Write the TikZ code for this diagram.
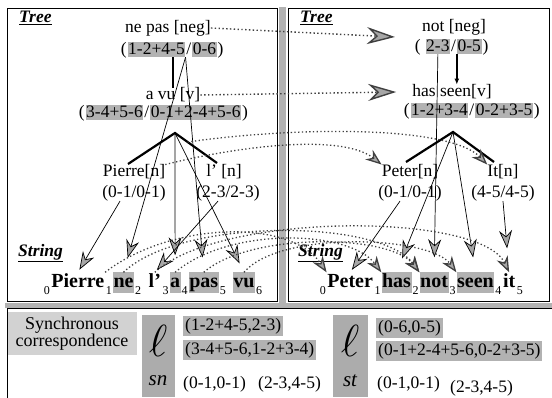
\documentclass[tikz,border=0pt]{standalone}
\usepackage{fontspec}
\setmainfont{Liberation Serif}
\usetikzlibrary{positioning,arrows.meta}
\newcommand{\ix}[1]{\raisebox{-0.3em}{\normalfont\fontsize{12}{12}\selectfont #1}}
\newcommand{\ttl}[1]{\underline{\bfseries\itshape #1}}

\begin{document}
\begin{tikzpicture}[x=1pt,y=-1pt,
    every node/.style={inner sep=0pt,font=\fontsize{17.5}{20}\selectfont},
    part/.style={inner xsep=0.6pt,inner ysep=1.8pt},
    hl/.style={part,fill=gray!60},
    wd/.style={inner xsep=0.6pt,inner ysep=1.5pt,text height=14pt,text depth=4pt,font=\fontsize{20}{22}\selectfont\bfseries},
    hlwd/.style={wd,fill=gray!60},
    bx/.style={fill=gray!60,inner xsep=2pt,inner ysep=2pt},
    link/.style={line width=0.7pt,-{Stealth[length=18pt,width=13pt,inset=6pt,fill=gray!70]}},
    arm/.style={line width=2.2pt},
    xlink/.style={black!75,line width=1.4pt,dash pattern=on 1.4pt off 2.4pt,-{Stealth[length=28pt,width=17pt,inset=9pt,fill=gray!70]}},
    xarc/.style={black!75,line width=1.3pt,dash pattern=on 1.3pt off 2.4pt,-{Stealth[length=16pt,width=12pt,inset=5pt,fill=gray!70]}}]
    \useasboundingbox (0,0) rectangle (552,398);

    \draw[line width=1pt] (7,9) rectangle (277,302);
    \fill[gray!60] (279,7) rectangle (286,304);
    \draw[line width=1pt] (288,9) rectangle (549,302);
    \fill[gray!60] (5,303) rectangle (552,308);
    \draw[line width=1pt] (7,309) -- (552,309);
    \draw[line width=1pt] (7,309) -- (7,398);

    \node[anchor=west] (lTree) at (19,18) {\ttl{Tree}};
    \node[anchor=west] (rTree) at (300,18) {\ttl{Tree}};
    \node[anchor=west] (lString) at (18,253) {\ttl{String}};
    \node[anchor=west] (rString) at (298,253) {\ttl{String}};

    \node (nepas) at (168,28) {ne pas [neg]};
    \node[part,anchor=base west] (nepasO) at (120,55) {(};
    \node[hl,base right=0pt of nepasO] (nepasA) {1-2+4-5};
    \node[part,base right=0pt of nepasA] (nepasS) {/};
    \node[hl,base right=0pt of nepasS] (nepasB) {0-6};
    \node[part,base right=0pt of nepasB] (nepasC) {)};

    \node (avu) at (173,95) {a vu [v]};
    \node[part,anchor=base west] (avuO) at (78,118) {(};
    \node[hl,base right=0pt of avuO] (avuA) {3-4+5-6};
    \node[part,base right=0pt of avuA] (avuS) {/};
    \node[hl,base right=0pt of avuS] (avuB) {0-1+2-4+5-6};
    \node[part,base right=0pt of avuB] (avuC) {)};

    \coordinate (lTop) at (175,133);
    \coordinate (lArmL) at (128,164);
    \coordinate (lArmR) at (217,163);
    \node (pierre) at (134,172) {Pierre[n]};
    \node (pierreSp) at (134,193) {(0-1/0-1)};
    \node (lq) at (224,172) {l’ [n]};
    \node (lqSp) at (228,193) {(2-3/2-3)};

    \node (notneg) at (454,27) {not [neg]};
    \node[part,anchor=base west] (notO) at (414,52) {(};
    \node[hl,base right=4pt of notO] (notA) {2-3};
    \node[part,base right=0pt of notA] (notS) {/};
    \node[hl,base right=0pt of notS] (notB) {0-5};
    \node[part,base right=0pt of notB] (notC) {)};

    \node (hasseen) at (452,92) {has seen[v]};
    \node[part,anchor=base west] (hsO) at (403,116) {(};
    \node[hl,base right=0pt of hsO] (hsA) {1-2+3-4};
    \node[part,base right=0pt of hsA] (hsS) {/};
    \node[hl,base right=0pt of hsS] (hsB) {0-2+3-5};
    \node[part,base right=0pt of hsB] (hsC) {)};

    \coordinate (rTop) at (453,132);
    \coordinate (rArmL) at (406,162);
    \coordinate (rArmR) at (494,162);
    \node (peter) at (410,172) {Peter[n]};
    \node (peterSp) at (410,193) {(0-1/0-1)};
    \node (it) at (503,172) {It[n]};
    \node (itSp) at (503,193) {(4-5/4-5)};

    \node[wd,anchor=base west] (li0) at (43,288) {\ix{0}};
    \node[wd,base right=0pt of li0] (lPierre) {Pierre};
    \node[wd,base right=0pt of lPierre] (li1) {\ix{1}};
    \node[hlwd,base right=0pt of li1] (lne) {ne};
    \node[wd,base right=0pt of lne] (li2) {\ix{2}};
    \node[wd,base right=6pt of li2] (llq) {l’};
    \node[wd,base right=0pt of llq] (li3) {\ix{3}};
    \node[hlwd,base right=0pt of li3] (la) {a};
    \node[wd,base right=0pt of la] (li4) {\ix{4}};
    \node[hlwd,base right=0pt of li4] (lpas) {pas};
    \node[wd,base right=0pt of lpas] (li5) {\ix{5}};
    \node[hlwd,base right=6pt of li5] (lvu) {vu};
    \node[wd,base right=0pt of lvu] (li6) {\ix{6}};

    \node[wd,anchor=base west] (ri0) at (319,288) {\ix{0}};
    \node[wd,base right=0pt of ri0] (rPeter) {Peter};
    \node[wd,base right=0pt of rPeter] (ri1) {\ix{1}};
    \node[hlwd,base right=0pt of ri1] (rhas) {has};
    \node[wd,base right=0pt of rhas] (ri2) {\ix{2}};
    \node[hlwd,base right=0pt of ri2] (rnot) {not};
    \node[wd,base right=0pt of rnot] (ri3) {\ix{3}};
    \node[hlwd,base right=0pt of ri3] (rseen) {seen};
    \node[wd,base right=0pt of rseen] (ri4) {\ix{4}};
    \node[wd,base right=0pt of ri4] (rit) {it};
    \node[wd,base right=0pt of rit] (ri5) {\ix{5}};

    \draw[line width=2pt] ([xshift=5pt]nepas.south |- nepasB.south) -- ([xshift=5pt]nepas.south |- avu.north);
    \draw[line width=1.6pt,-{Latex[length=6pt,width=5pt]}] (notB.south west) -- (notB.south west |- hasseen.north);
    \draw[arm] (lArmL) -- (lTop) -- (lArmR);
    \draw[arm] (rArmL) -- (rTop) -- (rArmR);
    \path (lTop) -- (lArmR) coordinate[pos=0.3] (lArmMid);

    \draw[link,shorten >=15pt] (nepasA.south east) -- (lne.north);
    \draw[link,shorten >=15pt] (nepasA.south east) -- (lpas.north);
    \draw[link,shorten >=17pt] (lTop) -- (la.north);
    \draw[link,shorten >=10pt] (lTop) -- (lvu.north);
    \draw[link,shorten >=3pt] ([xshift=-14pt]pierreSp.south) -- (lPierre.north);
    \draw[link,shorten >=3pt] ([xshift=-10pt]lqSp.south) -- (llq.north);

    \draw[link,shorten >=15pt] (notA.south) -- (rnot.north);
    \draw[link,shorten >=15pt] (rTop) -- (rhas.north);
    \draw[link,shorten >=15pt] (rTop) -- (rseen.north);
    \draw[link,shorten >=3pt] ([xshift=-10pt]peterSp.south) -- (rPeter.north);
    \draw[link,shorten >=24pt] (itSp.south) -- (rit.north);

    \draw[xlink] (nepas.east) -- ([xshift=-27pt,yshift=-10pt]notneg.west);
    \draw[xlink] (avu.east) -- ([xshift=-16pt]hasseen.west);
    \draw[xarc] (pierre.north east) .. controls (230,148) and (340,132) .. (peter.north west);
    \draw[xarc] (lArmMid) .. controls (300,126) and (450,126) .. (it.north west);

    \draw[xarc] (lPierre.north east) .. controls (170,222) and (290,218) .. (rPeter.north west);
    \draw[xarc] (lne.north) .. controls (180,218) and (380,218) .. (rnot.north west);
    \draw[xarc] (llq.north) .. controls (220,212) and (480,212) .. (rit.north);
    \draw[xarc] (la.north) .. controls (230,226) and (350,230) .. (rhas.north west);
    \draw[xarc] (lpas.north) .. controls (250,232) and (390,234) .. (rnot.north west);
    \draw[xarc] (lvu.north) .. controls (280,230) and (430,236) .. (rseen.north west);

    \node[fill=gray!35,minimum width=129pt,minimum height=43pt,align=center,font=\fontsize{18}{16}\selectfont] (sync) at (72,333.5) {Synchronous\\correspondence};

    \node[fill=gray!65,minimum width=33pt,minimum height=82pt] (lsnBox) at (158,356) {};
    \node (lsnL) at (158,341) {\scalebox{2.6}{$\ell$}};
    \node (lsnT) at (158,381) {\fontsize{21}{21}\selectfont\itshape sn};
    \node[bx,anchor=west] (sn1) at (183,326) {(1-2+4-5,2-3)};
    \node[bx,anchor=west] (sn2) at (183,350) {(3-4+5-6,1-2+3-4)};
    \node[anchor=west] (sn3) at (183,384) {(0-1,0-1)};
    \node[anchor=west] (sn4) at (258,384) {(2-3,4-5)};

    \node[fill=gray!65,minimum width=35pt,minimum height=82pt] (lstBox) at (350.5,356) {};
    \node (lstL) at (350,341) {\scalebox{2.6}{$\ell$}};
    \node (lstT) at (350,381) {\fontsize{21}{21}\selectfont\itshape st};
    \node[bx,anchor=west] (st1) at (376,328) {(0-6,0-5)};
    \node[bx,anchor=west] (st2) at (376,351) {(0-1+2-4+5-6,0-2+3-5)};
    \node[anchor=west] (st3) at (377,384) {(0-1,0-1)};
    \node[anchor=west] (st4) at (450,388) {(2-3,4-5)};
\end{tikzpicture}
\end{document}
